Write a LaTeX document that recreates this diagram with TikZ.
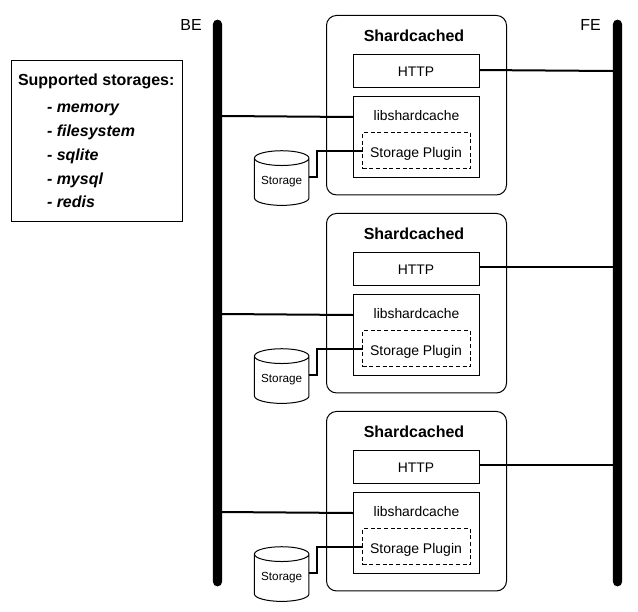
\documentclass[tikz,border=0pt]{standalone}
\usepackage{fontspec}
\setmainfont{Liberation Sans}
\usetikzlibrary{shapes.geometric}
\newcommand{\pxfont}[1]{\fontsize{#1}{#1}\selectfont}
\tikzset{
  x=0.75pt,y=-0.75pt,
  every node/.style={inner sep=0pt,outer sep=0pt,line width=0.75pt,text=black},
  shardbox/.style={draw,rounded corners=7.5pt,minimum width=135pt,minimum height=134.6pt},
  titletext/.style={font=\bfseries\pxfont{12}},
  innerbox/.style={draw,minimum width=94.5pt},
  plainlabel/.style={font=\pxfont{10.4}},
  pluginbox/.style={draw,dashed,dash pattern=on 3pt off 2pt,minimum width=81pt,minimum height=27pt},
  plugintext/.style={font=\pxfont{10.5}},
  storagecyl/.style={draw,cylinder,shape border rotate=90,aspect=0.36,minimum width=40.9pt,minimum height=41pt,font=\pxfont{8.8}},
  busbar/.style={fill=black,rounded corners=3.3pt,minimum width=6.8pt},
  wire/.style={line width=1.5pt},
  legendbox/.style={draw,minimum width=128.25pt,minimum height=120.75pt},
  legendhead/.style={font=\bfseries\pxfont{12},anchor=base west},
  legenditem/.style={font=\bfseries\itshape\pxfont{12},anchor=base west}
}
\begin{document}
\begin{tikzpicture}
\useasboundingbox (0,0) rectangle (638,611);
\path[fill=white] (0,0) rectangle (638,611);
\node[busbar,minimum height=425pt] (be) at (217.5,303) {};
\node[busbar,minimum height=425pt] (fe) at (617.5,303) {};
\node[font=\pxfont{12}] (belabel) at (191,25) {BE};
\node[font=\pxfont{12}] (felabel) at (590.5,25) {FE};
\node[legendbox] (legend) at (97,141) {};
\node[legendhead] (lh) at (18,85) {Supported storages:};
\node[legenditem] (l1) at (47,112.3) {- memory};
\node[legenditem] (l2) at (47,136.3) {- filesystem};
\node[legenditem] (l3) at (47,160.3) {- sqlite};
\node[legenditem] (l4) at (47,184) {- mysql};
\node[legenditem] (l5) at (47,207.5) {- redis};
\foreach \r/\dy/\hl/\hr/\bl/\br in {a/0/70/71/116/117, b/198/267/267/314/315, c/396/465/465/512/513}{
  \node[shardbox] (shard\r) at (416.5,105.2+\dy) {};
  \node[titletext] (title\r) at (414,36+\dy) {Shardcached};
  \node[innerbox,minimum height=24.75pt] (http\r) at (416.5,70.8+\dy) {};
  \node[plainlabel] (httptext\r) at (416,71.5+\dy) {HTTP};
  \node[innerbox,minimum height=60.75pt] (lib\r) at (416.5,136.8+\dy) {};
  \node[plainlabel] (libtext\r) at (416.5,116+\dy) {libshardcache};
  \node[pluginbox] (plug\r) at (416.5,150.5+\dy) {};
  \node[plugintext] (plugtext\r) at (416,153.5+\dy) {Storage Plugin};
  \node[storagecyl] (store\r) at (281.7,177+5+\dy) {Storage};
  \coordinate (feend\r) at (613,\hr);
  \coordinate (bestart\r) at (222,\bl);
  \coordinate (libend\r) at (353.5,\br);
  \coordinate (httpstart\r) at (479,\hl);
  \coordinate (storeout\r) at (309,177+\dy);
  \coordinate (bend\r) at (317,177+\dy);
  \draw[wire] (httpstart\r) -- (feend\r);
  \draw[wire] (bestart\r) -- (libend\r);
  \draw[wire] (storeout\r) -- (bend\r) -- (bend\r |- plug\r.west) -- (plug\r.west);
}
\end{tikzpicture}
\end{document}
